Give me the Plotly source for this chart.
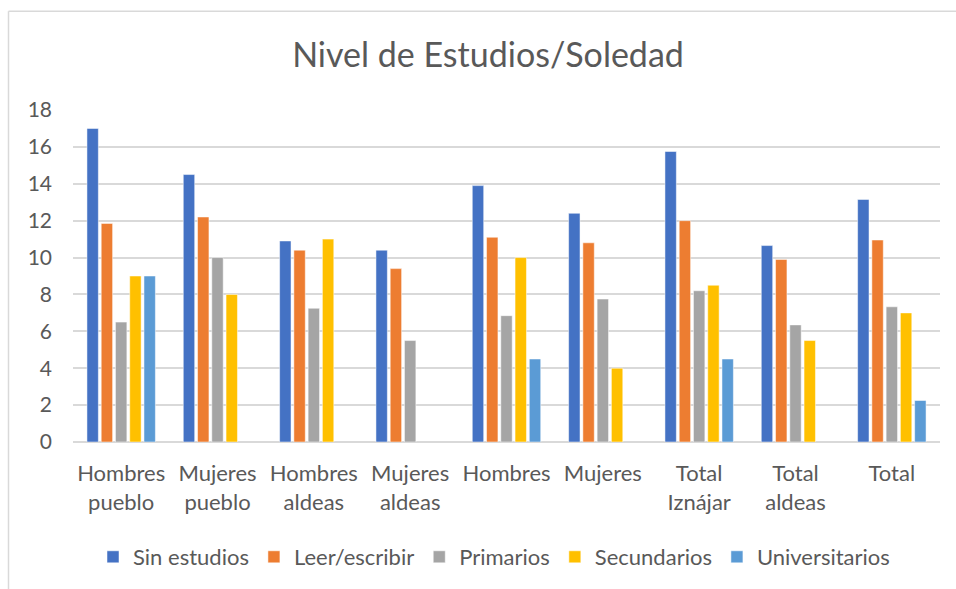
import plotly.graph_objects as go

categories = ["Hombres<br>pueblo", "Mujeres<br>pueblo", "Hombres<br>aldeas", "Mujeres<br>aldeas",
              "Hombres", "Mujeres", "Total<br>Iznájar", "Total<br>aldeas", "Total"]
sin_estudios = [17.0, 14.5, 10.9, 10.4, 13.9, 12.4, 15.75, 10.65, 13.15]
leer_escribir = [11.85, 12.2, 10.4, 9.4, 11.1, 10.8, 12.0, 9.9, 10.95]
primarios = [6.5, 10.0, 7.25, 5.5, 6.85, 7.75, 8.2, 6.35, 7.33]
secundarios = [9.0, 8.0, 11.0, None, 10.0, 4.0, 8.5, 5.5, 7.0]
universitarios = [9.0, None, None, None, 4.5, None, 4.5, None, 2.25]

series = [
    ("Sin estudios", sin_estudios, "#4472C4"),
    ("Leer/escribir", leer_escribir, "#ED7D31"),
    ("Primarios", primarios, "#A5A5A5"),
    ("Secundarios", secundarios, "#FFC000"),
    ("Universitarios", universitarios, "#5B9BD5"),
]

FONT = "Lato, 'Open Sans', sans-serif"
fig = go.Figure()
for name, vals, col in series:
    fig.add_trace(go.Bar(name=name, x=categories, y=vals,
                         marker=dict(color=col, line=dict(color="white", width=0.5))))

L, R, T, B, W, H = 73, 16, 110, 146, 956, 589
pw, ph = W - L - R, H - T - B
px = lambda x: (x - L) / pw
py = lambda y: 1 - (y - T) / ph

fig.update_layout(
    width=W, height=H,
    margin=dict(l=L, r=R, t=T, b=B),
    paper_bgcolor="white", plot_bgcolor="white",
    barmode="group", bargap=0.26, bargroupgap=0.2,
    font=dict(family=FONT, color="#595959", size=21),
    title=dict(text="Nivel de Estudios/Soledad", x=488 / W, xref="container", xanchor="center",
               y=1 - 55 / H, yanchor="middle",
               font=dict(family=FONT, size=34, color="#595959")),
    xaxis=dict(showgrid=False, showline=False, ticks="", tickfont=dict(size=22, color="#595959"),
               ticklabelstandoff=16),
    yaxis=dict(range=[0, 18], dtick=2, showgrid=True, gridcolor="#D9D9D9", gridwidth=1.5,
               zeroline=True, zerolinecolor="#D9D9D9", zerolinewidth=1.5,
               ticks="", tickfont=dict(size=21, color="#595959"), ticklabelstandoff=20),
    legend=dict(orientation="h", x=px(494), xanchor="center", y=py(557), yanchor="middle",
                font=dict(size=22, color="#595959"), itemwidth=30, traceorder="normal"),
    shapes=[
        dict(type="line", xref="paper", yref="paper", x0=px(8.5), x1=px(960), y0=py(11), y1=py(11),
             line=dict(color="#D9D9D9", width=1.5)),
        dict(type="line", xref="paper", yref="paper", x0=px(8.5), x1=px(8.5), y0=py(11), y1=py(600),
             line=dict(color="#D9D9D9", width=1.5)),
    ],
)
fig.write_html("out.html", config={"displayModeBar": False},
               post_script="document.body.style.margin='0';")
